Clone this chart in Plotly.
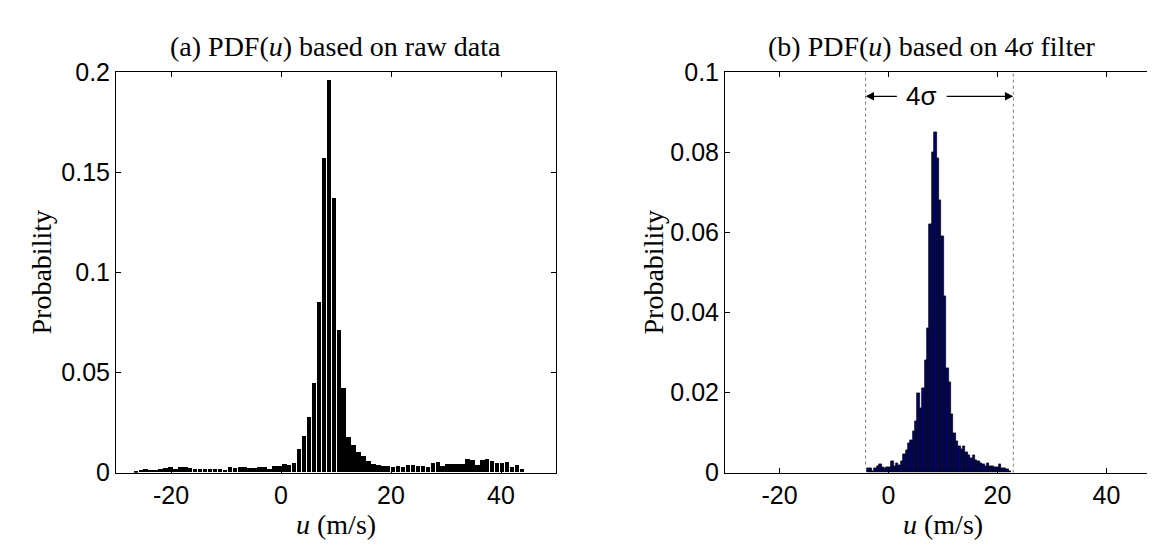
import numpy as np
import plotly.graph_objects as go

W, H = 1155, 546

# ---------------- data ----------------
# (a) raw data histogram: bin centres start / width and probabilities
raw_bin_start = -26.4
raw_bin_width = 0.9
raw_prob = [
    0.0008, 0.0013, 0.0015, 0.0012, 0.0011, 0.0015, 0.0024, 0.0025, 0.0017, 0.0027,
    0.0026, 0.0022, 0.0016, 0.0018, 0.0017, 0.0019, 0.0019, 0.0016, 0.0013, 0.0026,
    0.0022, 0.0025, 0.0026, 0.0024, 0.0023, 0.0028, 0.0027, 0.0018, 0.0034, 0.0030,
    0.0040, 0.0038, 0.0047, 0.0115, 0.0180, 0.0276, 0.0447, 0.0850, 0.1570, 0.1960,
    0.1370, 0.0710, 0.0420, 0.0175, 0.0137, 0.0102, 0.0080, 0.0056, 0.0043, 0.0036,
    0.0031, 0.0032, 0.0028, 0.0033, 0.0029, 0.0036, 0.0035, 0.0031, 0.0033, 0.0026,
    0.0045, 0.0053, 0.0031, 0.0043, 0.0044, 0.0044, 0.0043, 0.0066, 0.0060, 0.0036,
    0.0064, 0.0066, 0.0057, 0.0046, 0.0045, 0.0052, 0.0027, 0.0035, 0.0018,
]

# (b) 4-sigma filtered histogram
filt_bin_start = -3.7
filt_bin_width = 0.44
filt_prob = [
    0.0012, 0.0012, 0.0004, 0.0010, 0.0016, 0.0020, 0.0014, 0.0012, 0.0014, 0.0014,
    0.0028, 0.0016, 0.0024, 0.0018, 0.0028, 0.0045, 0.0055, 0.0073, 0.0080, 0.0103,
    0.0129, 0.0197, 0.0160, 0.0210, 0.0280, 0.0360, 0.0620, 0.0800, 0.0850, 0.0786,
    0.0680, 0.0590, 0.0440, 0.0260, 0.0225, 0.0146, 0.0099, 0.0079, 0.0067, 0.0059,
    0.0067, 0.0051, 0.0043, 0.0036, 0.0043, 0.0032, 0.0028, 0.0024, 0.0020, 0.0016,
    0.0024, 0.0016, 0.0016, 0.0014, 0.0014, 0.0020, 0.0012, 0.0010, 0.0008, 0.0004,
]

sigma_lo = -4.2   # lower 4-sigma bound (m/s)
sigma_hi = 22.9   # upper 4-sigma bound (m/s)

x_ticks = [-20, 0, 20, 40]
x_text = ["-20", "0", "20", "40"]
y1_ticks = [0, 0.05, 0.1, 0.15, 0.2]
y1_text = ["0", "0.05", "0.1", "0.15", "0.2"]
y2_ticks = [0, 0.02, 0.04, 0.06, 0.08, 0.1]
y2_text = ["0", "0.02", "0.04", "0.06", "0.08", "0.1"]

raw_x = raw_bin_start + raw_bin_width * np.arange(len(raw_prob))
filt_x = filt_bin_start + filt_bin_width * np.arange(len(filt_prob))

# ---------------- layout geometry (pixels) ----------------
def px(x):
    return x / W

def py(y):
    return 1 - y / H

L1, R1 = 108, 548
L2, R2 = 717, 1153
TOP, BOT = 53, 475

SANS = "Liberation Sans, Arial, sans-serif"
SERIF = "Liberation Serif, Times New Roman, serif"

fig = go.Figure()
fig.add_trace(go.Bar(
    x=raw_x, y=raw_prob, width=raw_bin_width * 0.9,
    marker=dict(color="black", line=dict(width=0)),
    xaxis="x", yaxis="y", showlegend=False,
))
fig.add_trace(go.Bar(
    x=filt_x, y=filt_prob, width=filt_bin_width,
    marker=dict(color="#00006a", line=dict(color="black", width=0.7)),
    xaxis="x2", yaxis="y2", showlegend=False,
))

axis_common = dict(
    showline=True, linecolor="black", linewidth=1, mirror="ticks",
    ticks="inside", ticklen=5, tickwidth=1, tickcolor="black",
    showgrid=False, zeroline=False,
    tickfont=dict(family=SANS, size=25, color="black"),
)

fig.update_layout(
    width=W, height=H,
    margin=dict(l=0, r=0, t=0, b=0),
    paper_bgcolor="white", plot_bgcolor="white",
    bargap=0,
    xaxis=dict(domain=[px(L1), px(R1)], range=[-30, 50], tickvals=x_ticks,
               ticktext=x_text, anchor="y", **axis_common),
    yaxis=dict(domain=[py(BOT), py(TOP)], range=[0, 0.2], tickvals=y1_ticks,
               ticktext=y1_text, anchor="x", **axis_common),
    xaxis2=dict(domain=[px(L2), px(R2)], range=[-30, 50], tickvals=x_ticks,
                ticktext=x_text, anchor="y2", **axis_common),
    yaxis2=dict(domain=[py(BOT), py(TOP)], range=[0, 0.1], tickvals=y2_ticks,
                ticktext=y2_text, anchor="x2", **axis_common),
)

# 4-sigma boundary lines
fig.add_shape(type="line", xref="x2", yref="y2", x0=sigma_lo, x1=sigma_lo,
              y0=0.002, y1=0.1, line=dict(color="#7a7a7a", width=1, dash="dot"))
fig.add_shape(type="line", xref="x2", yref="y2", x0=sigma_hi, x1=sigma_hi,
              y0=0, y1=0.1, line=dict(color="#7a7a7a", width=1, dash="dot"))

ann = []
# arrows
arrow_y = 0.094
ann.append(dict(xref="x2", yref="y2", axref="x2", ayref="y2",
                x=sigma_lo, y=arrow_y, ax=1.8, ay=arrow_y, text="",
                showarrow=True, arrowhead=2, arrowsize=1.4, arrowwidth=1.2,
                arrowcolor="black", standoff=0, startstandoff=0))
ann.append(dict(xref="x2", yref="y2", axref="x2", ayref="y2",
                x=sigma_hi, y=arrow_y, ax=10.4, ay=arrow_y, text="",
                showarrow=True, arrowhead=2, arrowsize=1.4, arrowwidth=1.2,
                arrowcolor="black", standoff=0, startstandoff=0))
ann.append(dict(xref="x2", yref="y2", x=6.1, y=arrow_y, text="4σ",
                showarrow=False, font=dict(family=SANS, size=26, color="black"),
                xanchor="center", yanchor="middle"))

# titles
ann.append(dict(xref="paper", yref="paper", x=px(327), y=py(26),
                text="(a) PDF(<i>u</i>) based on raw data", showarrow=False,
                font=dict(family=SERIF, size=28, color="black"),
                xanchor="center", yanchor="middle"))
ann.append(dict(xref="paper", yref="paper", x=px(924), y=py(26),
                text="(b) PDF(<i>u</i>) based on 4σ filter", showarrow=False,
                font=dict(family=SERIF, size=28, color="black"),
                xanchor="center", yanchor="middle"))
# x-axis titles
for cx in [(L1 + R1) / 2, (L2 + R2) / 2]:
    ann.append(dict(xref="paper", yref="paper", x=px(cx), y=py(530),
                    text="<i>u</i> (m/s)", showarrow=False,
                    font=dict(family=SERIF, size=28, color="black"),
                    xanchor="center", yanchor="middle"))
# y-axis titles
for cx in [33, 645]:
    ann.append(dict(xref="paper", yref="paper", x=px(cx), y=py((TOP + BOT) / 2),
                    text="Probability", showarrow=False, textangle=-90,
                    font=dict(family=SERIF, size=28, color="black"),
                    xanchor="center", yanchor="middle"))

fig.update_layout(annotations=ann)
fig.write_html("out.html")
